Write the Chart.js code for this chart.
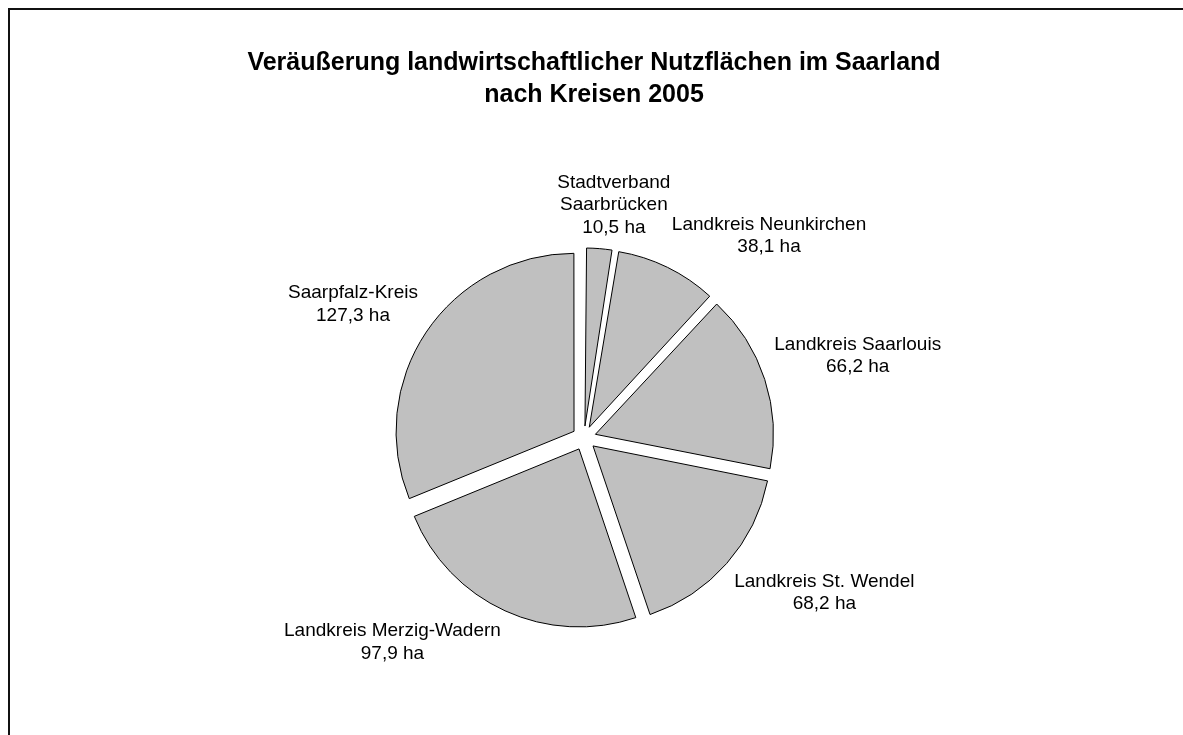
<!DOCTYPE html>
<html>
<head>
<meta charset="utf-8">
<script src="https://cdn.jsdelivr.net/npm/chart.js@4/dist/chart.umd.min.js"></script>
<style>
  html, body { margin: 0; padding: 0; background: #fff; overflow: hidden; }
  #frame {
    position: absolute; left: 8px; top: 8px; width: 1300px; height: 900px;
    border-left: 2px solid #111; border-top: 2px solid #111;
  }
  #chart { position: absolute; left: 0; top: 0; }
</style>
</head>
<body>
<div id="frame"></div>
<canvas id="chart" width="1183" height="735"></canvas>
<script>
// Daten: Veräußerung landwirtschaftlicher Nutzflächen nach Kreisen 2005 (ha)
const categories = [
    ['Stadtverband', 'Saarbrücken'],
    'Landkreis Neunkirchen',
    'Landkreis Saarlouis',
    'Landkreis St. Wendel',
    'Landkreis Merzig-Wadern',
    'Saarpfalz-Kreis'
];
const areaHa = [10.5, 38.1, 66.2, 68.2, 97.9, 127.3];
const titleLines = ['Veräußerung landwirtschaftlicher Nutzflächen im Saarland', 'nach Kreisen 2005'];

const FONT = '"Liberation Sans", Arial, Helvetica, sans-serif';

function formatHa(v) {
    return v.toFixed(1).replace('.', ',') + ' ha';
}

function clamp(v) {
    return Math.max(-1, Math.min(1, v));
}

// Chart.js vergrößert schmale, versetzte Segmente (radiusOffset) -
// hier ausgleichen, damit alle Stücke gleich groß sind wie bei Excel
const equalRadius = {
    id: 'equalRadius',
    beforeDatasetsDraw(chart) {
        const meta = chart.getDatasetMeta(0);
        const baseR = meta.controller.outerRadius;
        meta.data.forEach(arc => {
            const shift = (arc.options.offset || 0) / 4;
            const fix = 1 - Math.sin(Math.min(Math.PI, arc.circumference || 0));
            arc.outerRadius = baseR - shift * fix;
        });
    }
};

// Titel und Beschriftungen selbst zeichnen (Excel-ähnlich)
const excelLabels = {
    id: 'excelLabels',
    afterDraw(chart) {
        const ctx = chart.ctx;
        ctx.save();
        ctx.fillStyle = '#000';
        ctx.textAlign = 'center';
        ctx.textBaseline = 'middle';

        ctx.font = 'bold 25px ' + FONT;
        titleLines.forEach((line, i) => ctx.fillText(line, 594, 63 + i * 32));

        ctx.font = '19px ' + FONT;
        const lineH = 22.5;
        const meta = chart.getDatasetMeta(0);
        const baseR = meta.controller.outerRadius;
        meta.data.forEach((arc, i) => {
            const p = arc.getProps(['x', 'y', 'startAngle', 'endAngle']);
            const mid = (p.startAngle + p.endAngle) / 2;
            // Chart.js v4 verschiebt um offset / 4
            const shift = (arc.options.offset || 0) / 4;
            const dist = baseR + shift + 10;
            const ax = p.x + Math.cos(mid) * dist;
            const ay = p.y + Math.sin(mid) * dist;

            const name = Array.isArray(categories[i]) ? categories[i] : [categories[i]];
            const lines = [...name, formatHa(areaHa[i])];
            const w = Math.max(...lines.map(l => ctx.measureText(l).width));
            const h = lines.length * lineH;
            const cx = ax + clamp(3 * Math.cos(mid)) * w / 2;
            const cy = ay + clamp(3 * Math.sin(mid)) * h / 2;
            lines.forEach((l, k) => {
                ctx.fillText(l, cx, cy - h / 2 + lineH / 2 + k * lineH);
            });
        });
        ctx.restore();
    }
};

new Chart(document.getElementById('chart'), {
    type: 'pie',
    data: {
        labels: categories,
        datasets: [{
            data: areaHa,
            backgroundColor: '#c0c0c0',
            borderColor: '#000',
            borderWidth: 1,
            offset: 48
        }]
    },
    options: {
        responsive: false,
        animation: false,
        events: [],
        radius: 178,
        layout: { padding: { left: 200, right: 215, top: 241, bottom: 100 } },
        plugins: {
            legend: { display: false },
            title: { display: false },
            tooltip: { enabled: false }
        }
    },
    plugins: [equalRadius, excelLabels]
});
</script>
</body>
</html>
